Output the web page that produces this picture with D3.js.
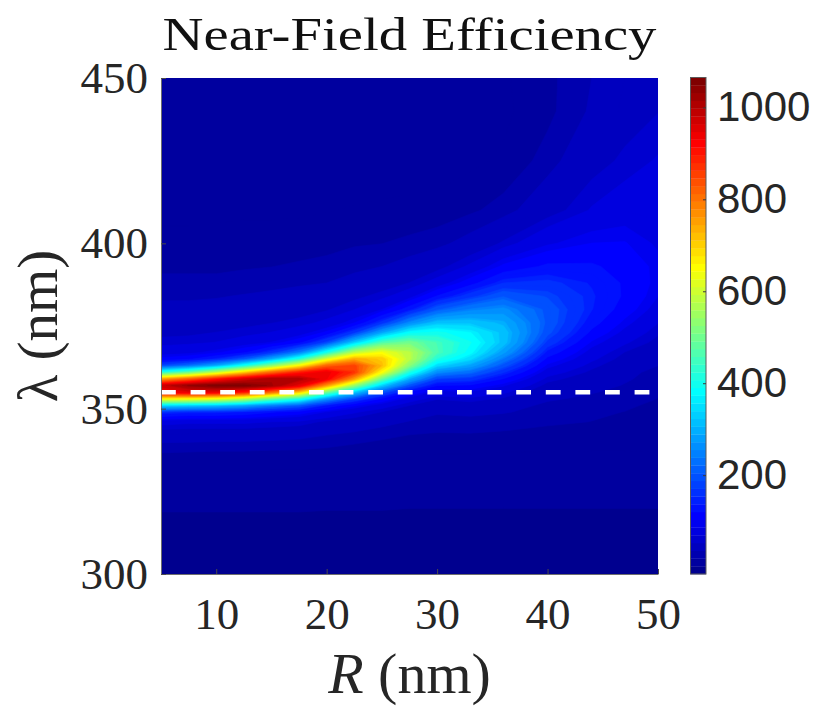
<!DOCTYPE html>
<html>
<head>
<meta charset="utf-8">
<script src="https://cdn.jsdelivr.net/npm/d3@7/dist/d3.min.js"></script>
<style>
  html, body { margin: 0; padding: 0; background: #ffffff; }
  svg { display: block; }
</style>
</head>
<body>
<svg id="chart" width="818" height="706"></svg>
<script>
// Particle radius samples (nm), one per grid column
const radii = [5, 7.5, 10, 12.5, 15, 17.5, 20, 22.5, 25, 27.5, 30, 33, 36, 40, 44, 47, 50];

// Wavelength samples (nm), one per grid row, denser around the resonance
const wavelengths = [300, 315, 328, 336, 342, 346, 349, 351, 353, 355, 357, 359, 361, 363,
                     365, 367, 370, 373, 376, 380, 384, 388, 393, 400, 410, 425, 440, 450];

// Near-field efficiency, one row per wavelength, one value per radius
const efficiency = [
  [0, 0, 0, 0, 0, 0, 0, 0, 0, 0, 0, 0, 0, 0, 0, 0, 0],
  [4, 4, 4, 4, 4, 4, 4, 4, 4, 4, 4, 4, 4, 4, 4, 4, 4],
  [13, 13, 13, 13, 13, 13, 12, 12, 12, 11, 11, 11, 11, 11, 11, 11, 11],
  [26, 25, 24, 24, 23, 23, 22, 20, 19, 18, 17, 17, 16, 16, 16, 16, 16],
  [47, 47, 46, 46, 45, 43, 39, 35, 31, 28, 27, 27, 26, 24, 23, 23, 22],
  [79, 75, 75, 75, 71, 68, 57, 51, 44, 38, 33, 35, 33, 30, 28, 27, 25],
  [163, 154, 153, 145, 128, 115, 91, 74, 60, 48, 41, 42, 40, 35, 30, 28, 25],
  [346, 330, 319, 290, 246, 209, 144, 107, 82, 61, 48, 53, 46, 36, 34, 30, 26],
  [648, 641, 623, 573, 486, 413, 270, 182, 121, 82, 62, 67, 58, 41, 36, 33, 28],
  [935, 952, 944, 895, 803, 701, 494, 329, 199, 123, 85, 90, 75, 46, 40, 35, 29],
  [979, 1035, 1063, 1064, 1026, 950, 753, 537, 333, 198, 126, 121, 95, 55, 45, 38, 31],
  [739, 810, 895, 966, 1017, 1011, 938, 750, 492, 299, 182, 169, 124, 66, 50, 41, 33],
  [411, 477, 575, 691, 804, 893, 947, 874, 649, 414, 260, 226, 160, 81, 57, 43, 35],
  [190, 231, 294, 400, 524, 655, 817, 858, 727, 526, 345, 289, 200, 99, 65, 48, 39],
  [109, 121, 152, 204, 296, 417, 614, 743, 714, 585, 420, 346, 242, 119, 75, 54, 43],
  [83, 87, 100, 121, 166, 245, 403, 580, 644, 582, 464, 382, 283, 140, 84, 60, 47],
  [66, 68, 72, 82, 94, 118, 188, 334, 465, 506, 458, 398, 321, 173, 101, 74, 55],
  [56, 57, 61, 65, 72, 82, 108, 172, 291, 386, 403, 375, 323, 197, 120, 87, 63],
  [50, 51, 52, 56, 60, 65, 76, 103, 165, 258, 322, 325, 303, 206, 135, 99, 72],
  [43, 43, 44, 47, 50, 53, 59, 71, 93, 139, 208, 247, 262, 205, 148, 114, 84],
  [37, 37, 38, 40, 42, 45, 48, 56, 66, 85, 127, 171, 210, 188, 150, 122, 93],
  [31, 31, 31, 33, 35, 37, 39, 45, 51, 61, 80, 116, 158, 164, 145, 122, 98],
  [26, 26, 26, 27, 28, 30, 32, 35, 39, 45, 54, 75, 108, 130, 129, 116, 99],
  [20, 20, 21, 21, 21, 22, 24, 27, 28, 31, 35, 45, 63, 90, 104, 105, 90],
  [15, 15, 15, 16, 16, 16, 17, 18, 19, 20, 21, 26, 33, 52, 73, 82, 79],
  [12, 12, 12, 12, 12, 12, 12, 12, 12, 12, 12, 15, 19, 33, 53, 64, 73],
  [10, 10, 10, 10, 10, 10, 10, 10, 10, 10, 10, 11, 15, 25, 41, 52, 60],
  [10, 10, 10, 10, 10, 10, 10, 10, 10, 10, 11, 12, 16, 25, 39, 50, 58]
];

const xTicks = [10, 20, 30, 40, 50];
const yTicks = [300, 350, 400, 450];
const colorTicks = [200, 400, 600, 800, 1000];
const colorLimits = [-15, 1065];
const markedWavelength = 355;

const titleText = "Near-Field Efficiency";
const levelCount = 100;

const svg = d3.select("#chart");
const plot = { left: 161, right: 658, top: 78, bottom: 574 };
const bar = { left: 690.5, right: 706, top: 77.5, bottom: 574 };
const textColor = "#262626";

const x = d3.scaleLinear().domain([5, 50]).range([plot.left, plot.right]);
const y = d3.scaleLinear().domain([300, 450]).range([plot.bottom, plot.top]);

// 64-step jet colormap
const jet = d3.range(64).map(k => {
  const t = (k + 1) / 64;
  const c = v => Math.max(0, Math.min(1, v));
  const r = c(1.5 - Math.abs(4 * t - 3));
  const g = c(1.5 - Math.abs(4 * t - 2));
  const b = c(1.5 - Math.abs(4 * t - 1));
  return d3.rgb(r * 255, g * 255, b * 255).formatHex();
});
const color = d3.scaleQuantize().domain(colorLimits).range(jet);

// Filled contours of the gridded field
const nx = radii.length, ny = wavelengths.length;
const values = efficiency.flat();
const levels = d3.range(levelCount).map(i => colorLimits[0] + i * (colorLimits[1] - colorLimits[0]) / levelCount);
const contours = d3.contours().size([nx, ny]).thresholds(levels)(values);

const radiusAt = d3.scaleLinear().domain(d3.range(nx)).range(radii).clamp(true);
const wavelengthAt = d3.scaleLinear().domain(d3.range(ny)).range(wavelengths).clamp(true);
const gridToScreen = d3.geoTransform({
  point(gx, gy) {
    this.stream.point(x(radiusAt(gx - 0.5)), y(wavelengthAt(gy - 0.5)));
  }
});
const path = d3.geoPath(gridToScreen);

svg.append("clipPath").attr("id", "plot-clip")
  .append("rect")
  .attr("x", plot.left).attr("y", plot.top)
  .attr("width", plot.right - plot.left).attr("height", plot.bottom - plot.top);

const field = svg.append("g").attr("clip-path", "url(#plot-clip)");
field.append("rect")
  .attr("x", plot.left).attr("y", plot.top)
  .attr("width", plot.right - plot.left).attr("height", plot.bottom - plot.top)
  .attr("fill", color(colorLimits[0]));
field.selectAll("path.level")
  .data(contours)
  .join("path")
  .attr("class", "level")
  .attr("d", path)
  .attr("fill", d => color(d.value))
  .attr("stroke", d => color(d.value))
  .attr("stroke-width", 0.6);

// Dashed marker at the reference wavelength
field.append("line")
  .attr("x1", x(5)).attr("x2", x(50))
  .attr("y1", y(markedWavelength)).attr("y2", y(markedWavelength))
  .attr("stroke", "#ffffff")
  .attr("stroke-width", 4.5)
  .attr("stroke-dasharray", "14.8 14.8");

// Axes
const serif = "'Liberation Serif', 'DejaVu Serif', serif";
const sans = "'Liberation Sans', Arial, sans-serif";

const xAxis = svg.append("g")
  .attr("transform", `translate(0,${plot.bottom})`)
  .call(d3.axisBottom(x).tickValues(xTicks).tickSize(-5).tickSizeOuter(0).tickPadding(23));
const yAxis = svg.append("g")
  .attr("transform", `translate(${plot.left},0)`)
  .call(d3.axisLeft(y).tickValues(yTicks).tickSize(-5).tickSizeOuter(0).tickPadding(13));

[xAxis, yAxis].forEach(g => {
  g.select(".domain").attr("stroke", "#6e6e6e").attr("stroke-width", 1);
  g.selectAll(".tick line").attr("stroke", "#4a4a4a").attr("stroke-width", 1);
  g.selectAll(".tick text")
    .attr("fill", textColor)
    .style("font-family", serif)
    .style("font-size", "45px");
});

// Colorbar
const c = d3.scaleLinear().domain(colorLimits).range([bar.bottom, bar.top]);
const step = (colorLimits[1] - colorLimits[0]) / jet.length;
svg.append("g").selectAll("rect")
  .data(jet)
  .join("rect")
  .attr("x", bar.left)
  .attr("width", bar.right - bar.left)
  .attr("y", (d, i) => c(colorLimits[0] + (i + 1) * step))
  .attr("height", (d, i) => c(colorLimits[0] + i * step) - c(colorLimits[0] + (i + 1) * step) + 0.3)
  .attr("fill", d => d);
svg.append("rect")
  .attr("x", bar.left).attr("y", bar.top)
  .attr("width", bar.right - bar.left).attr("height", bar.bottom - bar.top)
  .attr("fill", "none").attr("stroke", "#5a5a5a").attr("stroke-width", 1);

const cAxis = svg.append("g")
  .attr("transform", `translate(${bar.right},0)`)
  .call(d3.axisRight(c).tickValues(colorTicks).tickFormat(d3.format("d"))
    .tickSize(-3).tickSizeOuter(0).tickPadding(11));
cAxis.select(".domain").remove();
cAxis.selectAll(".tick line").attr("stroke", "#3a3a3a");
cAxis.selectAll(".tick text")
  .attr("fill", textColor)
  .style("font-family", sans)
  .style("font-size", "42px");

// Title and axis labels
svg.append("text")
  .attr("x", (plot.left + plot.right) / 2).attr("y", 50)
  .attr("text-anchor", "middle")
  .attr("textLength", 494).attr("lengthAdjust", "spacingAndGlyphs")
  .attr("fill", "#111111")
  .style("font-family", serif).style("font-size", "47px")
  .text(titleText);

const xLabel = svg.append("text")
  .attr("x", (plot.left + plot.right) / 2).attr("y", 693)
  .attr("text-anchor", "middle")
  .attr("fill", textColor)
  .style("font-family", serif).style("font-size", "58px");
xLabel.append("tspan").style("font-style", "italic").text("R");
xLabel.append("tspan").text(" (nm)");

const yLabel = svg.append("text")
  .attr("transform", `translate(57,${(plot.top + plot.bottom) / 2}) rotate(-90)`)
  .attr("text-anchor", "middle")
  .attr("fill", textColor)
  .style("font-family", serif).style("font-size", "57px");
yLabel.append("tspan").text("λ");
yLabel.append("tspan").text(" (nm)");
</script>
</body>
</html>
